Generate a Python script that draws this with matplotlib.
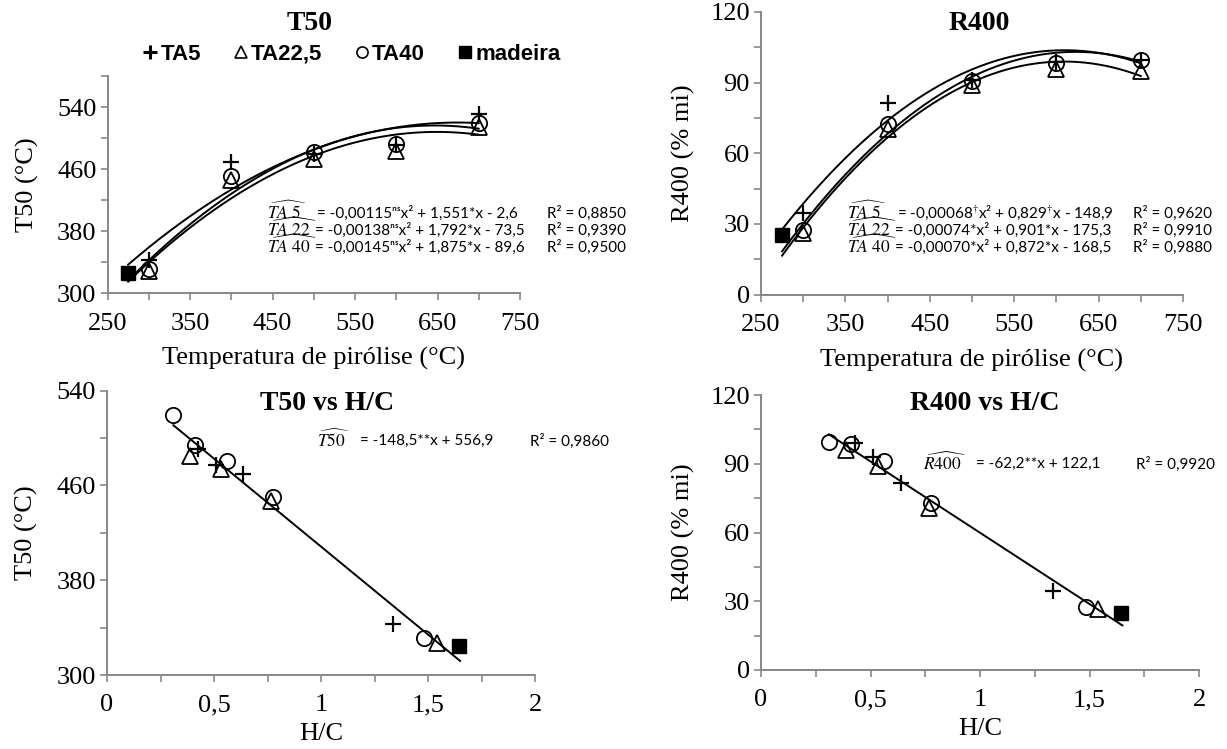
import numpy as np
import matplotlib
matplotlib.use("Agg")
import matplotlib.pyplot as plt
from matplotlib.lines import Line2D

plt.rcParams['font.family'] = ['Liberation Serif', 'DejaVu Serif']
plt.rcParams['mathtext.fontset'] = 'stix'

W, H = 1227, 749

# ---- data ----
temp = [300, 400, 500, 600, 700]
temp_madeira = 275

t50_ta5 = [343, 470, 480, 491, 531]
t50_ta22 = [329, 446, 473, 483, 515]
t50_ta40 = [332, 451, 482, 493, 520]
t50_madeira = 326

r400_ta5 = [34.7, 81.3, 91.0, 98.8, 99.5]
r400_ta22 = [26.2, 70.4, 88.8, 95.9, 94.8]
r400_ta40 = [27.6, 72.5, 90.7, 98.5, 99.5]
r400_madeira = 25.3

# H/C panels
hc_ta5 = [1.335, 0.637, 0.51, 0.427]
hc_ta22 = [1.54, 0.767, 0.534, 0.39]
hc_ta40 = [1.483, 0.775, 0.56, 0.411, 0.309]
hc_madeira = 1.644

t50hc_ta5 = [343, 470, 477, 491]
t50hc_ta22 = [327, 447, 474, 485]
t50hc_ta40 = [331, 450.5, 480.6, 494, 519.5]
t50hc_madeira = 324.5

r400hc_ta5 = [34.6, 81.5, 92.8, 98.9]
r400hc_ta22 = [26.5, 70.6, 89.2, 96.0]
r400hc_ta40 = [27.6, 73.0, 91.4, 98.5, 99.4]
r400hc_madeira = 24.7

# fitted equations shown in the chart (a*x^2 + b*x + c)
t50_fit_ta5 = (-0.00115, 1.551, -2.6)
t50_fit_ta22 = (-0.00138, 1.792, -73.5)
t50_fit_ta40 = (-0.00145, 1.875, -89.6)
r400_fit_ta5 = (-0.00068, 0.829, -148.9)
r400_fit_ta22 = (-0.00074, 0.901, -175.3)
r400_fit_ta40 = (-0.00070, 0.872, -168.5)
t50_hc_fit = (-148.5, 556.9)
r400_hc_fit = (-62.2, 122.1)

grey = '#878787'


def rect(left, right, top, bottom):
    return [left / W, 1 - bottom / H, (right - left) / W, (bottom - top) / H]


def style_axes(ax, xticks, xlabels, yticks, ylabels):
    for s in ['top', 'right']:
        ax.spines[s].set_visible(False)
    for s in ['left', 'bottom']:
        ax.spines[s].set_color(grey)
        ax.spines[s].set_linewidth(1.4)
    ax.set_xticks(xticks)
    ax.set_xticklabels(xlabels)
    ax.set_yticks(yticks)
    ax.set_yticklabels(ylabels)
    ax.tick_params(direction='out', length=5, width=1.2, color=grey,
                   labelsize=19, pad=3)
    ax.tick_params(axis='x', pad=9)


def draw_points(ax, x5, y5, x22, y22, x40, y40, xm, ym):
    ax.plot(x5, y5, ls='none', marker='+', ms=11, mew=1.6, color='black', zorder=4)
    ax.plot(x22, y22, ls='none', marker='^', ms=11, mew=1.3, mfc='none', color='black', zorder=4)
    ax.plot(x40, y40, ls='none', marker='o', ms=11, mew=1.3, mfc='none', color='black', zorder=4)
    ax.plot([xm], [ym], ls='none', marker='s', ms=10, color='black', zorder=4)


fig = plt.figure(figsize=(W / 100, H / 100), dpi=100)

# ---------------- T50 vs temperature ----------------
ax1 = fig.add_axes(rect(107.5, 520, 76.3, 293.3))
xx = np.linspace(275, 700, 200)
for a, b, c in [t50_fit_ta5, t50_fit_ta22, t50_fit_ta40]:
    ax1.plot(xx, a * xx**2 + b * xx + c, color='black', lw=1.4)
draw_points(ax1, temp, t50_ta5, temp, t50_ta22, temp, t50_ta40, temp_madeira, t50_madeira)
ax1.set_xlim(250, 750)
ax1.set_ylim(300, 580)
style_axes(ax1, np.arange(250, 751, 50),
           [str(v) if (v - 250) % 100 == 0 else '' for v in range(250, 751, 50)],
           np.arange(300, 581, 40),
           [str(v) if (v - 300) % 80 == 0 else '' for v in range(300, 581, 40)])
ax1.set_xlabel('Temperatura de pirólise (°C)', fontsize=19, labelpad=9)
ax1.set_ylabel('T50 (°C)', fontsize=19, labelpad=13)
fig.text(310 / W, 1 - 24 / H, 'T50', fontsize=20, fontweight='bold', ha='center', va='center')

# ---------------- R400 vs temperature ----------------
ax2 = fig.add_axes(rect(761, 1183, 12, 294.5))
for a, b, c in [r400_fit_ta5, r400_fit_ta22, r400_fit_ta40]:
    ax2.plot(xx, a * xx**2 + b * xx + c, color='black', lw=1.4)
draw_points(ax2, temp, r400_ta5, temp, r400_ta22, temp, r400_ta40, temp_madeira, r400_madeira)
ax2.set_xlim(250, 750)
ax2.set_ylim(0, 120)
style_axes(ax2, np.arange(250, 751, 50),
           [str(v) if (v - 250) % 100 == 0 else '' for v in range(250, 751, 50)],
           np.arange(0, 121, 15),
           [str(v) if v % 30 == 0 else '' for v in range(0, 121, 15)])
ax2.set_xlabel('Temperatura de pirólise (°C)', fontsize=19, labelpad=9)
ax2.set_ylabel('R400 (% mi)', fontsize=19, labelpad=11)
fig.text(979 / W, 1 - 24 / H, 'R400', fontsize=20, fontweight='bold', ha='center', va='center')

# ---------------- T50 vs H/C ----------------
ax3 = fig.add_axes(rect(107, 535, 390.7, 675))
hx = np.linspace(0.31, 1.65, 50)
ax3.plot(hx, t50_hc_fit[0] * hx + t50_hc_fit[1], color='black', lw=1.4)
draw_points(ax3, hc_ta5, t50hc_ta5, hc_ta22, t50hc_ta22, hc_ta40, t50hc_ta40, hc_madeira, t50hc_madeira)
ax3.set_xlim(0, 2)
ax3.set_ylim(300, 540)
hc_ticks = np.arange(0, 2.01, 0.25)
hc_labels = ['0', '', '0,5', '', '1', '', '1,5', '', '2']
style_axes(ax3, hc_ticks, hc_labels, np.arange(300, 541, 40),
           [str(v) if (v - 300) % 80 == 0 else '' for v in range(300, 541, 40)])
ax3.set_xlabel('H/C', fontsize=19, labelpad=5)
ax3.set_ylabel('T50 (°C)', fontsize=19, labelpad=13)
fig.text(327 / W, 1 - 403 / H, 'T50 vs H/C', fontsize=20, fontweight='bold', ha='center', va='center')

# ---------------- R400 vs H/C ----------------
ax4 = fig.add_axes(rect(761, 1199, 395, 670))
ax4.plot(hx, r400_hc_fit[0] * hx + r400_hc_fit[1], color='black', lw=1.4)
draw_points(ax4, hc_ta5, r400hc_ta5, hc_ta22, r400hc_ta22, hc_ta40, r400hc_ta40, hc_madeira, r400hc_madeira)
ax4.set_xlim(0, 2)
ax4.set_ylim(0, 120)
style_axes(ax4, hc_ticks, hc_labels, np.arange(0, 121, 15),
           [str(v) if v % 30 == 0 else '' for v in range(0, 121, 15)])
ax4.set_xlabel('H/C', fontsize=19, labelpad=5)
ax4.set_ylabel('R400 (% mi)', fontsize=19, labelpad=11)
fig.text(985 / W, 1 - 403 / H, 'R400 vs H/C', fontsize=20, fontweight='bold', ha='center', va='center')

# ---------------- equations ----------------
eq_font = dict(family=['Lato', 'DejaVu Sans'], fontsize=11, va='center', ha='left')


def ftext(x, y, s):
    fig.text(x / W, 1 - y / H, s, **eq_font)


def hat(x, y, s):
    fig.text(x / W, 1 - (y - 1) / H, s, fontsize=12.5, va='center', ha='left')


hat_labels = [r'$\widehat{TA\ 5}$', r'$\widehat{TA\ 22}$', r'$\widehat{TA\ 40}$']
t50_eqs = ['= -0,00115ⁿˢx² + 1,551*x - 2,6',
           '= -0,00138ⁿˢx² + 1,792*x - 73,5',
           '= -0,00145ⁿˢx² + 1,875*x - 89,6']
t50_r2 = ['R² = 0,8850', 'R² = 0,9390', 'R² = 0,9500']
r400_eqs = [r'= -0,00068$^{\dag}$x² + 0,829$^{\dag}$x - 148,9',
            '= -0,00074*x² + 0,901*x - 175,3',
            '= -0,00070*x² + 0,872*x - 168,5']
r400_r2 = ['R² = 0,9620', 'R² = 0,9910', 'R² = 0,9880']
eq_rows = [213, 230, 247]
eq_shift = [317, 315, 315]
for i in range(3):
    hat(267, eq_rows[i], hat_labels[i])
    ftext(eq_shift[i], eq_rows[i], t50_eqs[i])
    ftext(547, eq_rows[i], t50_r2[i])
    hat(847, eq_rows[i], hat_labels[i])
    ftext(eq_shift[i] + 580, eq_rows[i], r400_eqs[i])
    ftext(1133, eq_rows[i], r400_r2[i])

hat(317, 441, r'$\widehat{T50}$')
ftext(360, 441, '= -148,5**x + 556,9')
ftext(530, 441, 'R² = 0,9860')
hat(923, 464, r'$\widehat{R400}$')
ftext(976, 464, '= -62,2**x + 122,1')
ftext(1136, 464, 'R² = 0,9920')

# ---------------- legend ----------------
handles = [
    Line2D([], [], ls='none', marker='+', ms=10, mew=2.2, color='black'),
    Line2D([], [], ls='none', marker='^', ms=8, mew=1.2, mfc='none', color='black'),
    Line2D([], [], ls='none', marker='o', ms=8, mew=1.2, mfc='none', color='black'),
    Line2D([], [], ls='none', marker='s', ms=9, color='black'),
]
fig.legend(handles, ['TA5', 'TA22,5', 'TA40', 'madeira'], loc='center',
           bbox_to_anchor=(352 / W, 1 - 54 / H), ncol=4, frameon=False,
           handlelength=0.6, handletextpad=0.15, columnspacing=1.5,
           prop=dict(family='Liberation Sans', weight='bold', size=16))

fig.savefig('out.png', dpi=100)
